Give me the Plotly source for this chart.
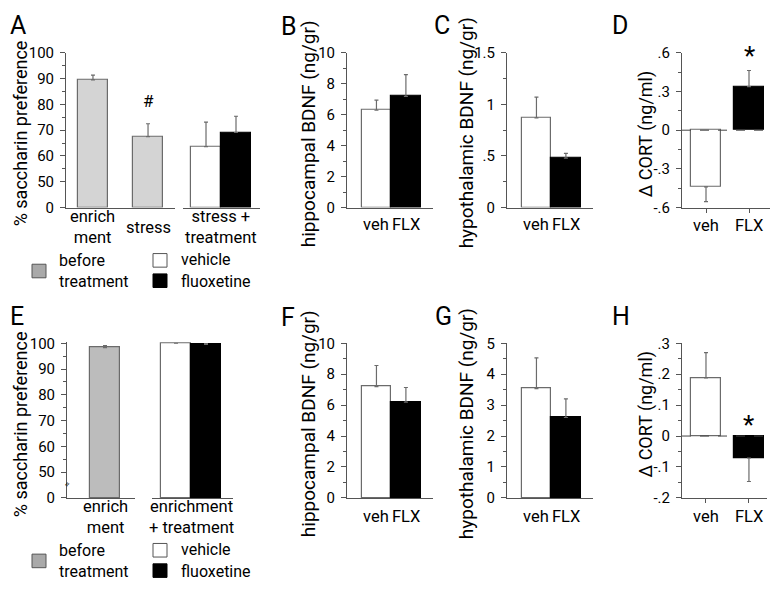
import plotly.graph_objects as go

W, H = 778, 591
OFF = 8  # the page body margin shifts the figure by 8px; compensate
FONT = "Roboto"
AX = "#555555"
EDGE = "#6b6b6b"

# ---------------- data ----------------
A_before_labels = ["enrich<br>ment", "stress"]
A_before_vals = [89.5, 67.5]
A_before_err = [1.9, 5.0]
A_treat_label = "stress +<br>treatment"
A_treat_vals = [63.6, 69.1]
A_treat_err = [9.5, 6.3]

drug_labels = ["veh", "FLX"]
B_vals = [6.29, 7.19]
B_err = [0.65, 1.40]
C_vals = [0.87, 0.48]
C_err = [0.20, 0.045]
D_vals = [-0.44, 0.338]
D_err = [0.115, 0.125]

E_before_labels = ["enrich<br>ment"]
E_before_vals = [98.3]
E_before_err = [0.8]
E_treat_label = "enrichment<br>+ treatment"
E_treat_vals = [100.0, 99.6]
E_treat_err = [0.0, 0.3]
F_vals = [7.19, 6.19]
F_err = [1.37, 0.95]
G_vals = [3.53, 2.60]
G_err = [1.00, 0.60]
H_vals = [0.188, -0.071]
H_err = [0.082, 0.076]

pref_ticks = [0, 50, 60, 70, 80, 90, 100]
pref_minor = [55, 65, 75, 85, 95]


def brk(v):
    # broken axis: 0..50 compressed into one 10-unit step
    return v - 40 if v >= 50 else v / 5.0


def px_x(p):
    return (p - OFF) / W


def px_y(p):
    return 1 - (p - OFF) / H


fig = go.Figure()


def err_dict(vals, errs):
    up = [e if v >= 0 else 0 for v, e in zip(vals, errs)]
    dn = [e if v < 0 else 0 for v, e in zip(vals, errs)]
    return dict(type="data", symmetric=False, array=up, arrayminus=dn,
                color=EDGE, thickness=1.2, width=2)


def add_bars(vals, errs, colors, edges, xa, ya, width, transform=None):
    yv = [transform(v) for v in vals] if transform else vals
    fig.add_trace(go.Bar(
        x=list(range(len(vals))), y=yv, width=width,
        marker=dict(color=colors, line=dict(color=edges, width=1.2)),
        error_y=err_dict(vals, errs), xaxis=xa, yaxis=ya, showlegend=False,
        cliponaxis=False, hoverinfo="skip"))


GRAY_TOP = "#d4d4d4"
GRAY_BOT = "#bcbcbc"

add_bars(A_before_vals, A_before_err, [GRAY_TOP] * 2, [EDGE] * 2, "x", "y", 0.545, brk)
add_bars(A_treat_vals, A_treat_err, ["white", "black"], [EDGE, "black"], "x2", "y", 1.0, brk)
add_bars(B_vals, B_err, ["white", "black"], [EDGE, "black"], "x3", "y3", 1.0)
add_bars(C_vals, C_err, ["white", "black"], [EDGE, "black"], "x4", "y4", 1.0)
add_bars(D_vals, D_err, ["white", "black"], [EDGE, "black"], "x5", "y5", 0.70)
add_bars(E_before_vals, E_before_err, [GRAY_BOT], [EDGE], "x6", "y6", 1.0, brk)
add_bars(E_treat_vals, E_treat_err, ["white", "black"], [EDGE, "black"], "x7", "y6", 1.0, brk)
add_bars(F_vals, F_err, ["white", "black"], [EDGE, "black"], "x8", "y8", 1.0)
add_bars(G_vals, G_err, ["white", "black"], [EDGE, "black"], "x9", "y9", 1.0)
add_bars(H_vals, H_err, ["white", "black"], [EDGE, "black"], "x10", "y10", 0.70)

TOP = (204.5, 45)
BOT = (504.0, 344.5)
TICKF = dict(family=FONT, size=15, color="black")


def ydom(rowpx, rng, extra=0.0):
    # extra: range extension above the top tick (keeps pixel scale)
    scale = (rowpx[0] - rowpx[1]) / (rng[1] - rng[0])
    return [px_y(rowpx[0]), px_y(rowpx[1] - extra * scale)]


def yaxis(rowpx, rng, tickvals, ticktext, anchor, minor_vals=None, minor_dtick=None, extra=0.0):
    minor = dict(ticks="outside", ticklen=3, tickcolor=AX, showgrid=False)
    if minor_vals is not None:
        minor.update(tickmode="array", tickvals=minor_vals)
    elif minor_dtick is not None:
        minor.update(dtick=minor_dtick, tick0=0)
    return dict(domain=ydom(rowpx, rng, extra), range=[rng[0], rng[1] + extra], anchor=anchor,
                showline=True, linecolor=AX, linewidth=1, ticks="outside", ticklen=5, tickcolor=AX,
                tickmode="array", tickvals=tickvals, ticktext=ticktext,
                tickfont=TICKF, showgrid=False, zeroline=False, minor=minor,
                ticklabelstandoff=3, fixedrange=True)


def xaxis(x0px, x1px, rng, anchor, tickvals=None, ticks=""):
    d = dict(domain=[px_x(x0px), px_x(x1px)], range=rng, anchor=anchor,
             showline=True, linecolor=AX, linewidth=1, showgrid=False, zeroline=False,
             ticks=ticks, ticklen=4, tickcolor=AX, fixedrange=True,
             showticklabels=False, tickmode="array", tickvals=tickvals or [])
    return d


pref_pos = [brk(v) for v in pref_ticks]
pref_txt = [str(v) for v in pref_ticks]
pref_minor_pos = [brk(v) for v in pref_minor]

lay = dict(
    xaxis=xaxis(66, 175, [-0.49, 1.49], "y"),
    xaxis2=xaxis(183, 260, [-0.767, 1.8], "y"),
    yaxis=yaxis(TOP, [0, 60], pref_pos, pref_txt, "x", minor_vals=pref_minor_pos),
    xaxis3=xaxis(347, 433, [-1.0, 1.92], "y3"),
    yaxis3=yaxis(TOP, [0, 10], [0, 2, 4, 6, 8, 10], ["0", "2", "4", "6", "8", "10"], "x3", minor_dtick=1),
    xaxis4=xaxis(507, 593, [-1.0, 1.92], "y4"),
    yaxis4=yaxis(TOP, [0, 1.5], [0, 0.5, 1, 1.5], ["0", ".5", "1", "1.5"], "x4", minor_dtick=0.25),
    xaxis5=xaxis(682, 777, [-0.558, 1.651], "y5", [0, 1], ticks="outside"),
    yaxis5=yaxis(TOP, [-0.6, 0.6], [-0.6, -0.3, 0, 0.3, 0.6], ["-.6", "-.3", "0", ".3", ".6"], "x5", minor_dtick=0.15),
    xaxis6=xaxis(67, 135, [-1.267, 1.0], "y6"),
    xaxis7=xaxis(152, 233, [-0.8, 1.9], "y6"),
    yaxis6=yaxis(BOT, [0, 60], pref_pos, pref_txt, "x6", minor_vals=pref_minor_pos, extra=0.4),
    xaxis8=xaxis(347, 433, [-1.0, 1.92], "y8"),
    yaxis8=yaxis(BOT, [0, 10], [0, 2, 4, 6, 8, 10], ["0", "2", "4", "6", "8", "10"], "x8", minor_dtick=1),
    xaxis9=xaxis(507, 593, [-1.0, 1.92], "y9"),
    yaxis9=yaxis(BOT, [0, 5], [0, 1, 2, 3, 4, 5], ["0", "1", "2", "3", "4", "5"], "x9", minor_dtick=0.5),
    xaxis10=xaxis(682, 767, [-0.558, 1.42], "y10", [0, 1], ticks="outside"),
    yaxis10=yaxis(BOT, [-0.2, 0.3], [-0.2, -0.1, 0, 0.1, 0.2, 0.3], ["-.2", "-.1", "0", ".1", ".2", ".3"], "x10", minor_dtick=0.05),
)

ann = []


def text(x, y, s, size=16, xref="paper", yref="paper", angle=0, xanchor="center", yanchor="middle", align="center"):
    ann.append(dict(x=x, y=y, text=s, xref=xref, yref=yref, showarrow=False,
                    textangle=angle, xanchor=xanchor, yanchor=yanchor, align=align,
                    font=dict(family=FONT, size=size, color="black")))


# panel letters (A and E anchored at their left edge so they stay inside the figure)
text(px_x(8), px_y(17), "A", size=25, xanchor="left")
text(px_x(8), px_y(317), "E", size=25, xanchor="left")
for letter, (lx, ly) in {"B": (289, 18), "C": (442, 17), "D": (620, 17),
                         "F": (288, 318), "G": (443, 317), "H": (621, 317)}.items():
    text(px_x(lx), px_y(ly), letter, size=25)

# y titles
for s, cx, cy, sz in [("% saccharin preference", 20, 128, 18), ("hippocampal BDNF (ng/gr)", 308, 129, 19),
                      ("hypothalamic BDNF (ng/gr)", 466, 128, 19), ("Δ CORT (ng/ml)", 646, 129, 18),
                      ("% saccharin preference", 20, 428, 18), ("hippocampal BDNF (ng/gr)", 308, 428, 19),
                      ("hypothalamic BDNF (ng/gr)", 466, 428, 19), ("Δ CORT (ng/ml)", 646, 418, 18)]:
    text(px_x(cx), px_y(cy), s, size=sz, angle=-90)

# x labels
for i, lab in enumerate(A_before_labels):
    text(i, px_y(225), lab, xref="x", size=16.5)
text(0.5, px_y(225), A_treat_label, xref="x2", size=16.5)
for i, lab in enumerate(E_before_labels):
    text(i, px_y(524), lab, xref="x6", size=16.5)
text(0.5, px_y(524), E_treat_label, xref="x7", size=16.5)
for xa, ypx in (("x3", 222), ("x4", 222), ("x5", 223), ("x8", 523), ("x9", 523), ("x10", 523)):
    for i, lab in enumerate(drug_labels):
        text(i, px_y(ypx), lab, xref=xa, size=16.5)

# significance marks
text(1, brk(A_before_vals[1] + A_before_err[1]) + 4, "#", xref="x", yref="y", size=17, yanchor="bottom")
text(1, D_vals[1] + D_err[1] - 0.02, "*", xref="x5", yref="y5", size=26, yanchor="bottom")
text(1, -0.02, "*", xref="x10", yref="y10", size=26, yanchor="bottom")

# break mark on E axis
text(px_x(67), px_y(490), "≈", size=8, angle=-60)

# legends
shapes = []
for off in (0, 299):
    shapes.append(dict(type="rect", xref="paper", yref="paper", x0=px_x(32), x1=px_x(46),
                       y0=px_y(263 + off), y1=px_y(277 + off), fillcolor="#a9a9a9",
                       line=dict(color="#555", width=1)))
    shapes.append(dict(type="rect", xref="paper", yref="paper", x0=px_x(153), x1=px_x(167),
                       y0=px_y(252 + off), y1=px_y(266 + off), fillcolor="white",
                       line=dict(color="#555", width=1)))
    shapes.append(dict(type="rect", xref="paper", yref="paper", x0=px_x(153), x1=px_x(167),
                       y0=px_y(273 + off), y1=px_y(287 + off), fillcolor="black",
                       line=dict(color="black", width=1)))
    text(px_x(57), px_y(270 + off), "before<br>treatment", size=16, xanchor="left", align="left")
    text(px_x(179), px_y(258 + off), "vehicle", size=16, xanchor="left")
    text(px_x(179), px_y(281 + off), "fluoxetine", size=16, xanchor="left")

# dashed zero lines
for xa, ya, x1 in (("x5", "y5", 1.0), ("x10", "y10", 1.07)):
    shapes.append(dict(type="line", xref=f"{xa} domain", yref=ya, x0=0, x1=x1, y0=0, y1=0,
                       line=dict(color="#444", width=1, dash="dash")))

fig.update_layout(**lay)
fig.update_layout(width=W, height=H, margin=dict(l=0, r=0, t=0, b=0), autosize=False,
                  paper_bgcolor="white", plot_bgcolor="white", showlegend=False,
                  annotations=ann, shapes=shapes, bargap=0,
                  font=dict(family=FONT, size=15, color="black"))

fig.write_html("out.html")
